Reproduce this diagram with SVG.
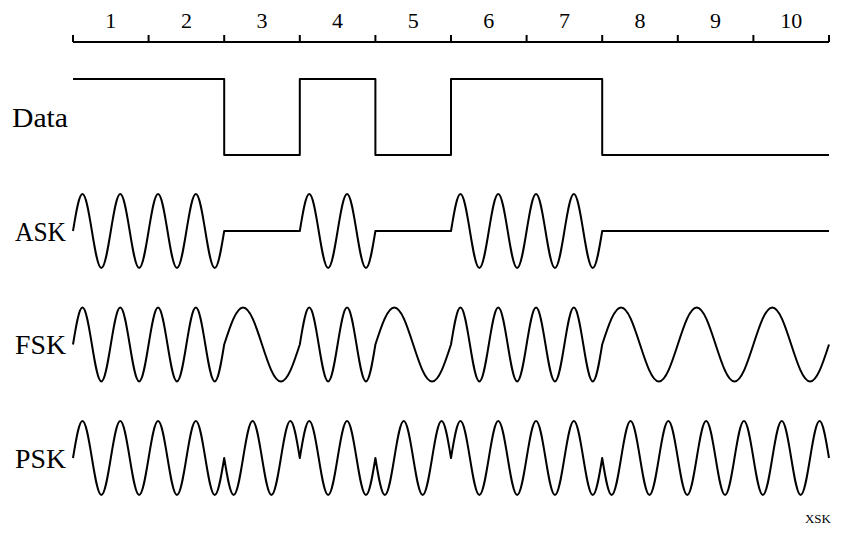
<svg xmlns="http://www.w3.org/2000/svg" width="848" height="544" viewBox="0 0 848 544">
<style>
.ln{fill:none;stroke:#000;stroke-width:2;stroke-linejoin:round;stroke-linecap:butt}
.num{font-family:"Liberation Serif","DejaVu Serif",serif;font-size:22px;text-anchor:middle;fill:#000}
.lbl{font-family:"Liberation Serif","DejaVu Serif",serif;font-size:27px;fill:#000}
.cap{font-family:"Liberation Serif","DejaVu Serif",serif;font-size:18px;font-variant:small-caps;fill:#000;text-anchor:end}
</style>
<rect width="848" height="544" fill="#fff"/>
<g id="axis">
<path class="ln" d="M73,42H829M73,35V42M148.6,35V42M224.2,35V42M299.8,35V42M375.4,35V42M451,35V42M526.6,35V42M602.2,35V42M677.8,35V42M753.4,35V42M829,35V42"/>
<text class="num" x="110.8" y="28">1</text>
<text class="num" x="186.4" y="28">2</text>
<text class="num" x="262" y="28">3</text>
<text class="num" x="337.6" y="28">4</text>
<text class="num" x="413.2" y="28">5</text>
<text class="num" x="488.8" y="28">6</text>
<text class="num" x="564.4" y="28">7</text>
<text class="num" x="640" y="28">8</text>
<text class="num" x="715.6" y="28">9</text>
<text class="num" x="791.2" y="28">10</text>
</g>
<g id="data">
<text class="lbl" x="12" y="127" textLength="56" lengthAdjust="spacingAndGlyphs">Data</text>
<path class="ln" d="M73,79H224.2V155H299.8V79H375.4V155H451V79H602.2V155H829"/>
</g>
<g id="ask">
<text class="lbl" x="15" y="241" textLength="51" lengthAdjust="spacingAndGlyphs">ASK</text>
<path class="ln" d="M73,231
c3.082,-18.955 6.030,-37 9.45,-37 c3.420,0 6.368,18.045 9.45,37 c3.082,18.955 6.030,37 9.45,37 c3.420,0 6.368,-18.045 9.45,-37
c3.082,-18.955 6.030,-37 9.45,-37 c3.420,0 6.368,18.045 9.45,37 c3.082,18.955 6.030,37 9.45,37 c3.420,0 6.368,-18.045 9.45,-37
c3.082,-18.955 6.030,-37 9.45,-37 c3.420,0 6.368,18.045 9.45,37 c3.082,18.955 6.030,37 9.45,37 c3.420,0 6.368,-18.045 9.45,-37
c3.082,-18.955 6.030,-37 9.45,-37 c3.420,0 6.368,18.045 9.45,37 c3.082,18.955 6.030,37 9.45,37 c3.420,0 6.368,-18.045 9.45,-37
h75.6
c3.082,-18.955 6.030,-37 9.45,-37 c3.420,0 6.368,18.045 9.45,37 c3.082,18.955 6.030,37 9.45,37 c3.420,0 6.368,-18.045 9.45,-37
c3.082,-18.955 6.030,-37 9.45,-37 c3.420,0 6.368,18.045 9.45,37 c3.082,18.955 6.030,37 9.45,37 c3.420,0 6.368,-18.045 9.45,-37
h75.6
c3.082,-18.955 6.030,-37 9.45,-37 c3.420,0 6.368,18.045 9.45,37 c3.082,18.955 6.030,37 9.45,37 c3.420,0 6.368,-18.045 9.45,-37
c3.082,-18.955 6.030,-37 9.45,-37 c3.420,0 6.368,18.045 9.45,37 c3.082,18.955 6.030,37 9.45,37 c3.420,0 6.368,-18.045 9.45,-37
c3.082,-18.955 6.030,-37 9.45,-37 c3.420,0 6.368,18.045 9.45,37 c3.082,18.955 6.030,37 9.45,37 c3.420,0 6.368,-18.045 9.45,-37
c3.082,-18.955 6.030,-37 9.45,-37 c3.420,0 6.368,18.045 9.45,37 c3.082,18.955 6.030,37 9.45,37 c3.420,0 6.368,-18.045 9.45,-37
h226.8"/>
</g>
<g id="fsk">
<text class="lbl" x="15" y="354" textLength="51" lengthAdjust="spacingAndGlyphs">FSK</text>
<path class="ln" d="M73,344.5
c3.082,-18.955 6.030,-37 9.45,-37 c3.420,0 6.368,18.045 9.45,37 c3.082,18.955 6.030,37 9.45,37 c3.420,0 6.368,-18.045 9.45,-37
c3.082,-18.955 6.030,-37 9.45,-37 c3.420,0 6.368,18.045 9.45,37 c3.082,18.955 6.030,37 9.45,37 c3.420,0 6.368,-18.045 9.45,-37
c3.082,-18.955 6.030,-37 9.45,-37 c3.420,0 6.368,18.045 9.45,37 c3.082,18.955 6.030,37 9.45,37 c3.420,0 6.368,-18.045 9.45,-37
c3.082,-18.955 6.030,-37 9.45,-37 c3.420,0 6.368,18.045 9.45,37 c3.082,18.955 6.030,37 9.45,37 c3.420,0 6.368,-18.045 9.45,-37
c6.164,-18.955 12.060,-37 18.9,-37 c6.840,0 12.736,18.045 18.9,37 c6.164,18.955 12.060,37 18.9,37 c6.840,0 12.736,-18.045 18.9,-37
c3.082,-18.955 6.030,-37 9.45,-37 c3.420,0 6.368,18.045 9.45,37 c3.082,18.955 6.030,37 9.45,37 c3.420,0 6.368,-18.045 9.45,-37
c3.082,-18.955 6.030,-37 9.45,-37 c3.420,0 6.368,18.045 9.45,37 c3.082,18.955 6.030,37 9.45,37 c3.420,0 6.368,-18.045 9.45,-37
c6.164,-18.955 12.060,-37 18.9,-37 c6.840,0 12.736,18.045 18.9,37 c6.164,18.955 12.060,37 18.9,37 c6.840,0 12.736,-18.045 18.9,-37
c3.082,-18.955 6.030,-37 9.45,-37 c3.420,0 6.368,18.045 9.45,37 c3.082,18.955 6.030,37 9.45,37 c3.420,0 6.368,-18.045 9.45,-37
c3.082,-18.955 6.030,-37 9.45,-37 c3.420,0 6.368,18.045 9.45,37 c3.082,18.955 6.030,37 9.45,37 c3.420,0 6.368,-18.045 9.45,-37
c3.082,-18.955 6.030,-37 9.45,-37 c3.420,0 6.368,18.045 9.45,37 c3.082,18.955 6.030,37 9.45,37 c3.420,0 6.368,-18.045 9.45,-37
c3.082,-18.955 6.030,-37 9.45,-37 c3.420,0 6.368,18.045 9.45,37 c3.082,18.955 6.030,37 9.45,37 c3.420,0 6.368,-18.045 9.45,-37
c6.164,-18.955 12.060,-37 18.9,-37 c6.840,0 12.736,18.045 18.9,37 c6.164,18.955 12.060,37 18.9,37 c6.840,0 12.736,-18.045 18.9,-37
c6.164,-18.955 12.060,-37 18.9,-37 c6.840,0 12.736,18.045 18.9,37 c6.164,18.955 12.060,37 18.9,37 c6.840,0 12.736,-18.045 18.9,-37
c6.164,-18.955 12.060,-37 18.9,-37 c6.840,0 12.736,18.045 18.9,37 c6.164,18.955 12.060,37 18.9,37 c6.840,0 12.736,-18.045 18.9,-37"/>
</g>
<g id="psk">
<text class="lbl" x="15" y="468" textLength="51" lengthAdjust="spacingAndGlyphs">PSK</text>
<path class="ln" d="M73,458
c3.082,-18.955 6.030,-37 9.45,-37 c3.420,0 6.368,18.045 9.45,37 c3.082,18.955 6.030,37 9.45,37 c3.420,0 6.368,-18.045 9.45,-37
c3.082,-18.955 6.030,-37 9.45,-37 c3.420,0 6.368,18.045 9.45,37 c3.082,18.955 6.030,37 9.45,37 c3.420,0 6.368,-18.045 9.45,-37
c3.082,-18.955 6.030,-37 9.45,-37 c3.420,0 6.368,18.045 9.45,37 c3.082,18.955 6.030,37 9.45,37 c3.420,0 6.368,-18.045 9.45,-37
c3.082,-18.955 6.030,-37 9.45,-37 c3.420,0 6.368,18.045 9.45,37 c3.082,18.955 6.030,37 9.45,37 c3.420,0 6.368,-18.045 9.45,-37
c3.082,18.955 6.030,37 9.45,37 c3.420,0 6.368,-18.045 9.45,-37 c3.082,-18.955 6.030,-37 9.45,-37 c3.420,0 6.368,18.045 9.45,37
c3.082,18.955 6.030,37 9.45,37 c3.420,0 6.368,-18.045 9.45,-37 c3.082,-18.955 6.030,-37 9.45,-37 c3.420,0 6.368,18.045 9.45,37
c3.082,-18.955 6.030,-37 9.45,-37 c3.420,0 6.368,18.045 9.45,37 c3.082,18.955 6.030,37 9.45,37 c3.420,0 6.368,-18.045 9.45,-37
c3.082,-18.955 6.030,-37 9.45,-37 c3.420,0 6.368,18.045 9.45,37 c3.082,18.955 6.030,37 9.45,37 c3.420,0 6.368,-18.045 9.45,-37
c3.082,18.955 6.030,37 9.45,37 c3.420,0 6.368,-18.045 9.45,-37 c3.082,-18.955 6.030,-37 9.45,-37 c3.420,0 6.368,18.045 9.45,37
c3.082,18.955 6.030,37 9.45,37 c3.420,0 6.368,-18.045 9.45,-37 c3.082,-18.955 6.030,-37 9.45,-37 c3.420,0 6.368,18.045 9.45,37
c3.082,-18.955 6.030,-37 9.45,-37 c3.420,0 6.368,18.045 9.45,37 c3.082,18.955 6.030,37 9.45,37 c3.420,0 6.368,-18.045 9.45,-37
c3.082,-18.955 6.030,-37 9.45,-37 c3.420,0 6.368,18.045 9.45,37 c3.082,18.955 6.030,37 9.45,37 c3.420,0 6.368,-18.045 9.45,-37
c3.082,-18.955 6.030,-37 9.45,-37 c3.420,0 6.368,18.045 9.45,37 c3.082,18.955 6.030,37 9.45,37 c3.420,0 6.368,-18.045 9.45,-37
c3.082,-18.955 6.030,-37 9.45,-37 c3.420,0 6.368,18.045 9.45,37 c3.082,18.955 6.030,37 9.45,37 c3.420,0 6.368,-18.045 9.45,-37
c3.082,18.955 6.030,37 9.45,37 c3.420,0 6.368,-18.045 9.45,-37 c3.082,-18.955 6.030,-37 9.45,-37 c3.420,0 6.368,18.045 9.45,37
c3.082,18.955 6.030,37 9.45,37 c3.420,0 6.368,-18.045 9.45,-37 c3.082,-18.955 6.030,-37 9.45,-37 c3.420,0 6.368,18.045 9.45,37
c3.082,18.955 6.030,37 9.45,37 c3.420,0 6.368,-18.045 9.45,-37 c3.082,-18.955 6.030,-37 9.45,-37 c3.420,0 6.368,18.045 9.45,37
c3.082,18.955 6.030,37 9.45,37 c3.420,0 6.368,-18.045 9.45,-37 c3.082,-18.955 6.030,-37 9.45,-37 c3.420,0 6.368,18.045 9.45,37
c3.082,18.955 6.030,37 9.45,37 c3.420,0 6.368,-18.045 9.45,-37 c3.082,-18.955 6.030,-37 9.45,-37 c3.420,0 6.368,18.045 9.45,37
c3.082,18.955 6.030,37 9.45,37 c3.420,0 6.368,-18.045 9.45,-37 c3.082,-18.955 6.030,-37 9.45,-37 c3.420,0 6.368,18.045 9.45,37"/>
</g>
<text id="caption" class="cap" x="831" y="523">xsk</text>
</svg>
